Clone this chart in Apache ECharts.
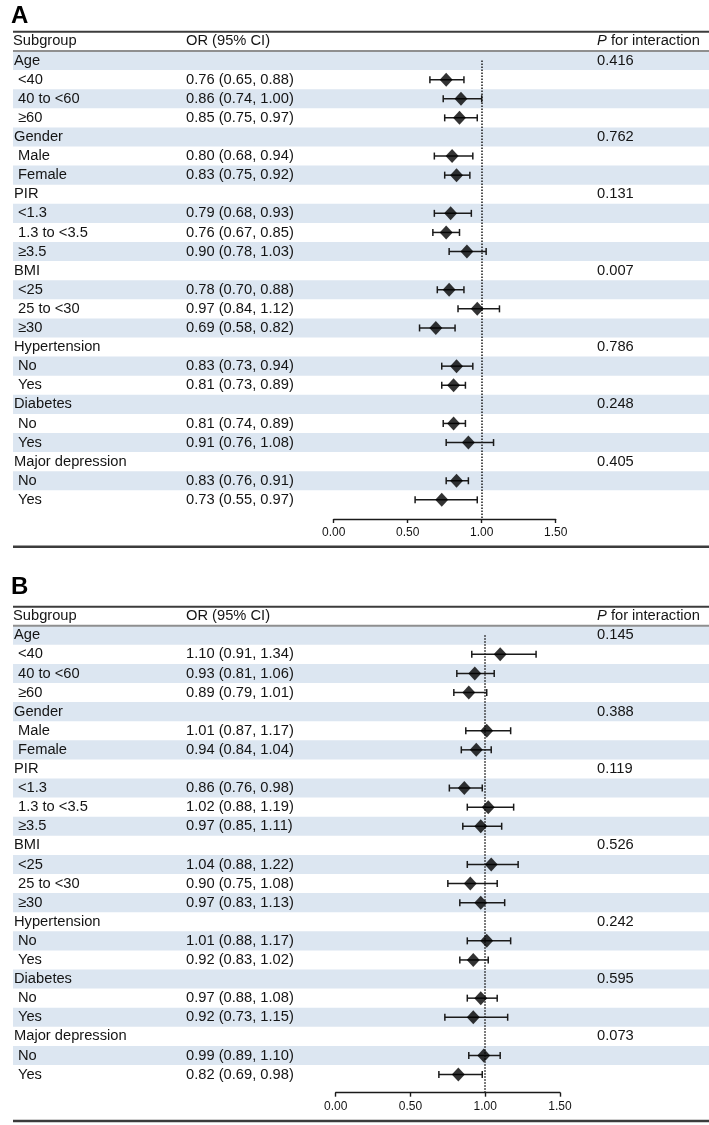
<!DOCTYPE html>
<html>
<head>
<meta charset="utf-8">
<script src="https://cdn.jsdelivr.net/npm/echarts@6/dist/echarts.min.js"></script>
<style>
html,body{margin:0;padding:0;background:#fff;}
#main{width:709px;height:1125px;}
</style>
</head>
<body>
<div id="main"></div>
<script>
// subgroups
var groups = ['Age', 'Gender', 'PIR', 'BMI', 'Hypertension', 'Diabetes', 'Major depression'];
var levels = [
	['<40', '40 to <60', '≥60'],
	['Male', 'Female'],
	['<1.3', '1.3 to <3.5', '≥3.5'],
	['<25', '25 to <30', '≥30'],
	['No', 'Yes'],
	['No', 'Yes'],
	['No', 'Yes']
];

// panel A
var orA   = [0.76, 0.86, 0.85, 0.80, 0.83, 0.79, 0.76, 0.90, 0.78, 0.97, 0.69, 0.83, 0.81, 0.81, 0.91, 0.83, 0.73];
var lowA  = [0.65, 0.74, 0.75, 0.68, 0.75, 0.68, 0.67, 0.78, 0.70, 0.84, 0.58, 0.73, 0.73, 0.74, 0.76, 0.76, 0.55];
var highA = [0.88, 1.00, 0.97, 0.94, 0.92, 0.93, 0.85, 1.03, 0.88, 1.12, 0.82, 0.94, 0.89, 0.89, 1.08, 0.91, 0.97];
var pA    = ['0.416', '0.762', '0.131', '0.007', '0.786', '0.248', '0.405'];

// panel B
var orB   = [1.10, 0.93, 0.89, 1.01, 0.94, 0.86, 1.02, 0.97, 1.04, 0.90, 0.97, 1.01, 0.92, 0.97, 0.92, 0.99, 0.82];
var lowB  = [0.91, 0.81, 0.79, 0.87, 0.84, 0.76, 0.88, 0.85, 0.88, 0.75, 0.83, 0.88, 0.83, 0.88, 0.73, 0.89, 0.69];
var highB = [1.34, 1.06, 1.01, 1.17, 1.04, 0.98, 1.19, 1.11, 1.22, 1.08, 1.13, 1.17, 1.02, 1.08, 1.15, 1.10, 0.98];
var pB    = ['0.145', '0.388', '0.119', '0.526', '0.242', '0.595', '0.073'];

var xMin = 0, xMax = 1.5, xStep = 0.5;

var FONT = '"Liberation Sans", Arial, sans-serif';
var TXT = '#141414';
var ROW_H = 19.1;

// flatten group + level rows
var rows = [];
(function(){
	var k = 0;
	groups.forEach(function(g, gi){
		rows.push({label: g, group: true, gi: gi});
		levels[gi].forEach(function(l){
			rows.push({label: l, group: false, k: k});
			k++;
		});
	});
})();

var option = {
	animation: false,
	backgroundColor: '#fff',
	textStyle: {fontFamily: FONT},
	grid: [], xAxis: [], yAxis: [], series: [], graphic: []
};

function addPanel(letter, pos, or, low, high, pv){
	var gi = option.grid.length, xa = option.xAxis.length, ya = option.yAxis.length;
	var cats = rows.map(function(r, i){ return String(i); });
	var tableH = rows.length * ROW_H;

	// table grid (full width) and forest grid
	option.grid.push({left: 13, right: 0, top: pos.rowTop, height: tableH, outerBoundsMode: 'none', containLabel: false});
	option.grid.push({left: pos.x0, width: pos.x1 - pos.x0, top: pos.rowTop, height: pos.axisY - pos.rowTop, outerBoundsMode: 'none', containLabel: false});

	option.xAxis.push({gridIndex: gi, type: 'value', min: 0, max: 1, show: false});
	option.xAxis.push({
		gridIndex: gi + 1, type: 'value', min: xMin, max: xMax, interval: xStep, position: 'bottom',
		axisLine: {show: true, onZero: false, lineStyle: {color: '#1a1a1a', width: 1.4}},
		axisTick: {show: true, inside: false, length: 4, lineStyle: {color: '#1a1a1a', width: 1.4}},
		splitLine: {show: false},
		axisLabel: {color: TXT, fontSize: 12, fontFamily: FONT, margin: 8, formatter: function(v){ return v.toFixed(2); }}
	});

	var labelBase = {interval: 0, color: TXT, fontSize: 14.7, fontFamily: FONT, align: 'left'};
	// subgroup column
	option.yAxis.push({
		gridIndex: gi, type: 'category', data: cats, inverse: true, position: 'left', z: 10,
		axisLine: {show: false, onZero: false}, axisTick: {show: false},
		axisLabel: Object.assign({}, labelBase, {
			margin: -1,
			formatter: function(v, i){ var r = rows[i]; return r.group ? '{g|' + r.label + '}' : '{s|' + r.label + '}'; },
			rich: {g: {fontSize: 14.7, fontFamily: FONT, color: TXT}, s: {fontSize: 14.7, fontFamily: FONT, color: TXT, padding: [0, 0, 0, 4]}}
		})
	});
	// OR (95% CI) column
	option.yAxis.push({
		gridIndex: gi, type: 'category', data: cats, inverse: true, position: 'left', z: 10,
		axisLine: {show: false, onZero: false}, axisTick: {show: false},
		axisLabel: Object.assign({}, labelBase, {
			margin: -(186 - 13),
			formatter: function(v, i){
				var r = rows[i];
				if (r.group) return '';
				return or[r.k].toFixed(2) + ' (' + low[r.k].toFixed(2) + ', ' + high[r.k].toFixed(2) + ')';
			}
		})
	});
	// P for interaction column
	option.yAxis.push({
		gridIndex: gi, type: 'category', data: cats, inverse: true, position: 'right', z: 10,
		axisLine: {show: false, onZero: false}, axisTick: {show: false},
		axisLabel: Object.assign({}, labelBase, {
			margin: 597 - 709,
			formatter: function(v, i){ var r = rows[i]; return r.group ? pv[r.gi] : ''; }
		})
	});
	// forest rows
	option.yAxis.push({
		gridIndex: gi + 1, type: 'value', inverse: true, show: false,
		min: -0.5, max: -0.5 + (pos.axisY - pos.rowTop) / ROW_H
	});

	// stripes
	option.series.push({
		type: 'bar', xAxisIndex: xa, yAxisIndex: ya, silent: true, z: 1,
		barWidth: '100%', barCategoryGap: '0%',
		itemStyle: {color: '#dce6f1'},
		data: rows.map(function(r, i){ return i % 2 === 0 ? 1 : 0; })
	});

	var ciData = [], ptData = [];
	rows.forEach(function(r, i){
		if (!r.group) {
			ciData.push([low[r.k], high[r.k], i]);
			ptData.push([or[r.k], i]);
		}
	});

	// CI whiskers
	option.series.push({
		type: 'custom', xAxisIndex: xa + 1, yAxisIndex: ya + 3, silent: true, z: 5,
		encode: {x: [0, 1], y: 2},
		data: ciData,
		renderItem: function(params, api){
			var a = api.coord([api.value(0), api.value(2)]);
			var b = api.coord([api.value(1), api.value(2)]);
			var h = 3.5;
			var st = {stroke: '#1a1a1a', lineWidth: 1.5};
			return {type: 'group', children: [
				{type: 'line', shape: {x1: a[0], y1: a[1], x2: b[0], y2: b[1]}, style: st},
				{type: 'line', shape: {x1: a[0], y1: a[1] - h, x2: a[0], y2: a[1] + h}, style: st},
				{type: 'line', shape: {x1: b[0], y1: b[1] - h, x2: b[0], y2: b[1] + h}, style: st}
			]};
		}
	});

	// point estimates + null line
	option.series.push({
		type: 'scatter', xAxisIndex: xa + 1, yAxisIndex: ya + 3, silent: true, z: 6,
		symbol: 'diamond', symbolSize: [13, 14],
		itemStyle: {color: '#000'},
		data: ptData,
		markLine: {
			silent: true, symbol: 'none', label: {show: false},
			lineStyle: {type: 'dotted', color: '#1a1a1a', width: 1.5},
			data: [[{coord: [1, 0]}, {coord: [1, -0.5 + (pos.axisY - pos.rowTop) / ROW_H]}]]
		}
	});

	// letter, rules, header
	var hy = (pos.headTop + pos.rowTop) / 2;
	option.graphic.push(
		{type: 'text', x: 11, y: pos.letterY, style: {text: letter, font: 'bold 24px ' + FONT, fill: '#000', verticalAlign: 'middle'}},
		{type: 'line', shape: {x1: 13, y1: pos.headTop, x2: 709, y2: pos.headTop}, style: {stroke: '#3c3c3c', lineWidth: 2}},
		{type: 'line', shape: {x1: 13, y1: pos.rowTop, x2: 709, y2: pos.rowTop}, style: {stroke: '#8f8f8f', lineWidth: 2}, z: 20},
		{type: 'line', shape: {x1: 13, y1: pos.bottom, x2: 709, y2: pos.bottom}, style: {stroke: '#3c3c3c', lineWidth: 2.5}},
		{type: 'text', x: 13, y: hy, style: {text: 'Subgroup', font: '14.7px ' + FONT, fill: TXT, verticalAlign: 'middle'}},
		{type: 'text', x: 186, y: hy, style: {text: 'OR (95% CI)', font: '14.7px ' + FONT, fill: TXT, verticalAlign: 'middle'}},
		{type: 'text', x: 597, y: hy, style: {
			text: '{i|P} for interaction', font: '14.7px ' + FONT, fill: TXT, verticalAlign: 'middle',
			rich: {i: {fontStyle: 'italic', fontSize: 14.7, fontFamily: FONT, fill: TXT}}
		}}
	);
}

addPanel('A', {letterY: 16, headTop: 31.7, rowTop: 51, axisY: 519, bottom: 546.7, x0: 333.7, x1: 555.7}, orA, lowA, highA, pA);
addPanel('B', {letterY: 587, headTop: 606.7, rowTop: 625.7, axisY: 1092.7, bottom: 1121, x0: 335.7, x1: 560}, orB, lowB, highB, pB);

var myChart = echarts.init(document.getElementById('main'), null, {renderer: 'canvas'});
myChart.setOption(option);
window.addEventListener('resize', function(){ myChart.resize(); });
</script>
</body>
</html>
